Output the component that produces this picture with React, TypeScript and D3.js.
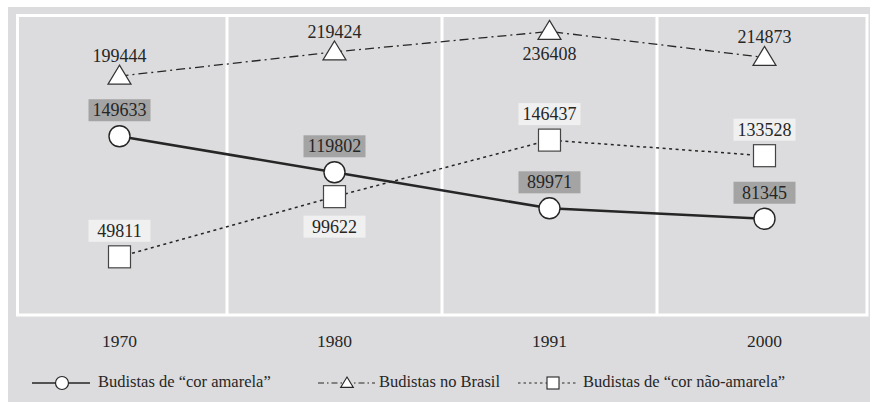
import React from 'react';
import * as d3 from 'd3';

// Budistas no Brasil, censos 1970-2000
const years = ['1970', '1980', '1991', '2000'];
const corAmarela = [149633, 119802, 89971, 81345];
const noBrasil = [199444, 219424, 236408, 214873];
const naoAmarela = [49811, 99622, 146437, 133528];
// where each value label sits relative to its marker
const noBrasilLabelPos = ['above', 'above', 'below', 'above'];
const naoAmarelaLabelPos = ['above', 'below', 'above', 'above'];

const W = 873;
const H = 402;
const BG = '#dcdcde';
const INK = '#262626';
const FONT = "'Liberation Serif', 'Times New Roman', serif";

const App = () => {
  const x = d3.scaleBand().domain(years).range([12, 872]).padding(0);
  const y = d3.scaleLinear().domain([0, 250000]).range([317, 15]);
  const cx = (yr: string) => (x(yr) || 0) + x.bandwidth() / 2;

  const line = d3.line<number>()
    .x((_, i) => cx(years[i]))
    .y(d => y(d));

  // frame of the plot panel
  const frame = { left: 17.5, right: 867, top: 15.5, bottom: 315 };
  const dividers = years.slice(1).map(yr => x(yr) || 0);

  const triPath = (s: number) =>
    `M0,${-s * 11}L${s * 11.5},${s * 8}L${-s * 11.5},${s * 8}Z`;

  const boxW = 62;
  const boxH = 22;
  const txt = { fontFamily: FONT };

  return (
    <svg width={W} height={H} style={{ position: 'absolute', left: 0, top: 0, fontFamily: FONT }}>
      <rect x={0} y={0} width={W} height={H} fill="#fff" />
      <rect x={8} y={7} width={862} height={H - 7} fill={BG} />

      {/* panel frame and dividers */}
      <rect x={frame.left} y={frame.top} width={frame.right - frame.left}
        height={frame.bottom - frame.top} fill="none" stroke="#fff" strokeWidth={3} />
      {dividers.map((d, i) => (
        <line key={i} x1={d} x2={d} y1={frame.top} y2={frame.bottom}
          stroke="#fff" strokeWidth={3} />
      ))}

      {/* lines */}
      <path d={line(noBrasil) || ''} fill="none" stroke={INK} strokeWidth={1.3}
        strokeDasharray="9,4,2,4" />
      <path d={line(naoAmarela) || ''} fill="none" stroke={INK} strokeWidth={1.5}
        strokeDasharray="3,3.5" />
      <path d={line(corAmarela) || ''} fill="none" stroke={INK} strokeWidth={2.5} />

      {/* triangles: Budistas no Brasil */}
      {noBrasil.map((v, i) => {
        const px = cx(years[i]);
        const py = y(v);
        const above = noBrasilLabelPos[i] === 'above';
        return (
          <g key={'t' + i}>
            <path d={triPath(1)} transform={`translate(${px},${py})`}
              fill="#fff" stroke="#333" strokeWidth={1.2} />
            <text x={px} y={above ? py - 14 : py + 29} textAnchor="middle"
              fontSize={18} fill={INK} style={txt}>{v}</text>
          </g>
        );
      })}

      {/* squares: cor não-amarela */}
      {naoAmarela.map((v, i) => {
        const px = cx(years[i]);
        const py = y(v);
        const above = naoAmarelaLabelPos[i] === 'above';
        const by = above ? py - 15 - boxH : py + 19;
        return (
          <g key={'s' + i}>
            <rect x={px - boxW / 2} y={by} width={boxW} height={boxH} fill="#f0f0f0" />
            <text x={px} y={by + boxH - 5} textAnchor="middle" fontSize={18}
              fill={INK} style={txt}>{v}</text>
            <rect x={px - 11} y={py - 11} width={22} height={22} fill="#fff"
              stroke="#444" strokeWidth={1.2} />
          </g>
        );
      })}

      {/* circles: cor amarela */}
      {corAmarela.map((v, i) => {
        const px = cx(years[i]);
        const py = y(v);
        const by = py - 15 - boxH;
        return (
          <g key={'c' + i}>
            <rect x={px - boxW / 2} y={by} width={boxW} height={boxH} fill="#a4a4a4" />
            <text x={px} y={by + boxH - 5} textAnchor="middle" fontSize={18}
              fill={INK} style={txt}>{v}</text>
            <circle cx={px} cy={py} r={10.5} fill="#fff" stroke={INK} strokeWidth={1.4} />
          </g>
        );
      })}

      {/* year labels */}
      {years.map(yr => (
        <text key={yr} x={cx(yr)} y={347} textAnchor="middle" fontSize={17.5}
          fill={INK} style={txt}>{yr}</text>
      ))}

      {/* legend */}
      <g>
        <line x1={32} x2={90} y1={383} y2={383} stroke={INK} strokeWidth={1.6} />
        <circle cx={62} cy={383} r={6.5} fill="#fff" stroke={INK} strokeWidth={1.2} />
        <text x={98} y={387} fontSize={16.5} fill={INK} style={txt}>Budistas de “cor amarela”</text>

        <line x1={318} x2={375} y1={383} y2={383} stroke={INK} strokeWidth={1.2}
          strokeDasharray="6,3,1.5,3" />
        <path d={triPath(0.55)} transform="translate(347,383)" fill="#fff"
          stroke={INK} strokeWidth={1.1} />
        <text x={379} y={387} fontSize={16.5} fill={INK} style={txt}>Budistas no Brasil</text>

        <line x1={518} x2={577} y1={383} y2={383} stroke={INK} strokeWidth={1.2}
          strokeDasharray="2.5,3" />
        <rect x={547} y={377} width={12} height={12} fill="#fff" stroke={INK}
          strokeWidth={1.1} />
        <text x={583} y={387} fontSize={16.5} fill={INK} style={txt}>Budistas de “cor não-amarela”</text>
      </g>
    </svg>
  );
};

export default App;
